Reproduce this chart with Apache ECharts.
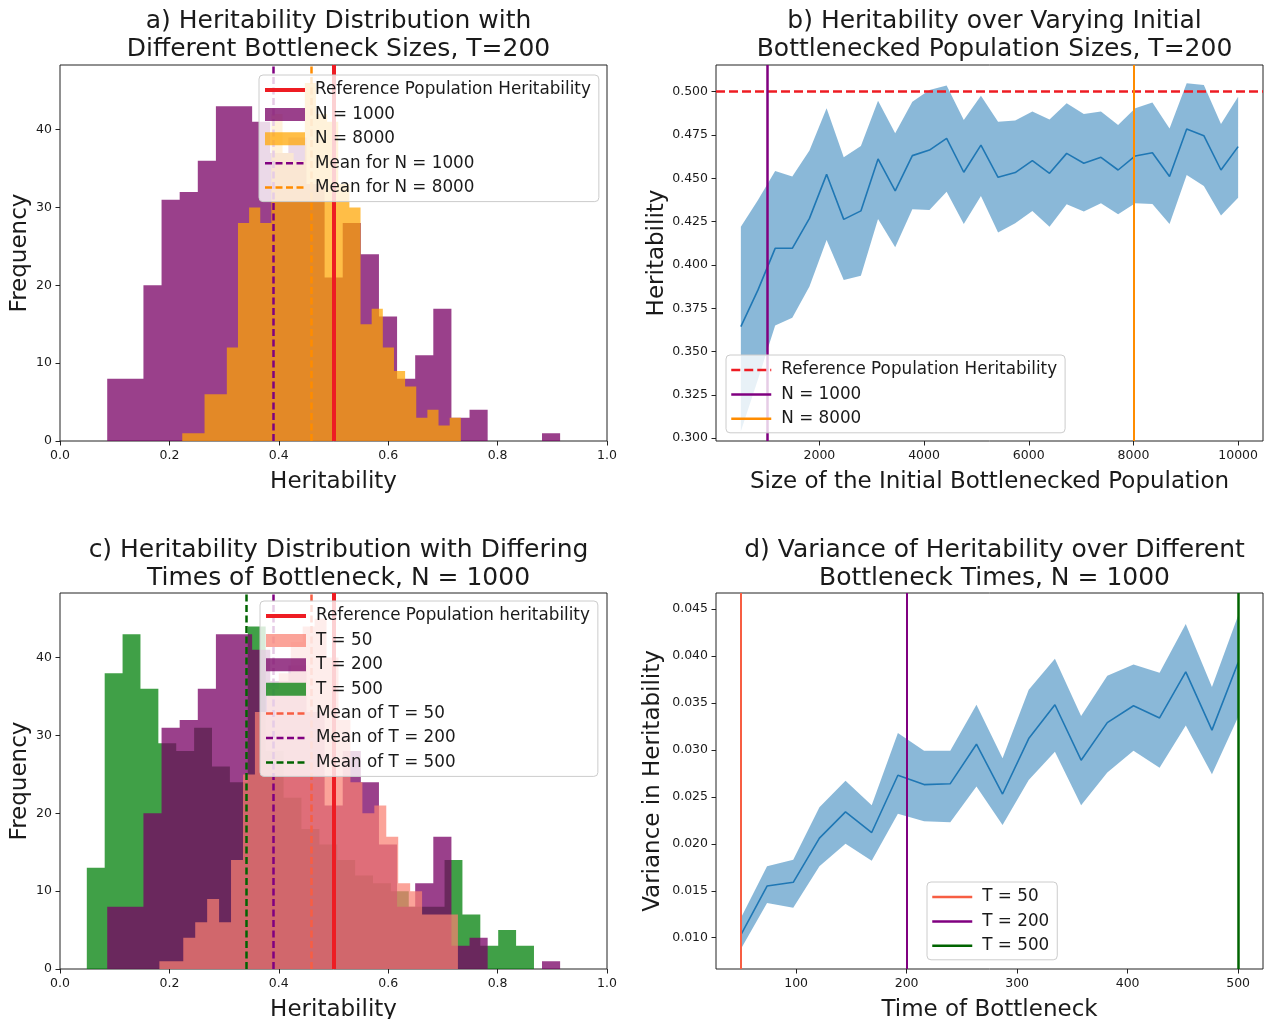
<!DOCTYPE html>
<html>
<head>
<meta charset="utf-8">
<script src="https://cdn.jsdelivr.net/npm/echarts@6/dist/echarts.min.js"></script>
<style>
html,body{margin:0;padding:0;background:#ffffff;}
#chart{width:1267px;height:1019px;}
</style>
</head>
<body>
<div id="chart"></div>
<script>
// ---------------- DATA ----------------
// Panel a / c histograms (bin start, bin width, counts)
const startN1000 = 0.0863, widthN1000 = 0.03312;
const countsN1000 = [8, 8, 20, 31, 32, 36, 43, 43, 41, 37, 39, 33, 21, 28, 24, 16, 8, 11, 17, 3, 4, 0, 0, 0, 1];
const startN8000 = 0.2235, widthN8000 = 0.02037;
const countsN8000 = [1, 1, 6, 6, 12, 28, 30, 28, 42, 37, 36, 46, 42, 41, 33, 30, 15, 17, 12, 9, 7, 3, 4, 2, 3];
const startT50 = 0.1817, widthT50 = 0.02183;
const countsT50 = [1, 1, 4, 6, 9, 6, 14, 25, 33, 36, 38, 42, 44, 45, 40, 32, 24, 20, 21, 17, 11, 10, 7, 7, 7];
const startT200 = 0.0863, widthT200 = 0.03312;
const countsT200 = [8, 8, 20, 31, 32, 36, 43, 43, 41, 37, 39, 33, 21, 28, 24, 16, 8, 11, 17, 3, 4, 0, 0, 0, 1];
const startT500 = 0.049, widthT500 = 0.0327;
const countsT500 = [13, 38, 43, 36, 29, 28, 31, 26, 24, 44, 28, 22, 18, 16, 14, 12, 11, 10, 8, 8, 14, 7, 3, 5, 3];

const refHeritability = 0.5;
const meanN1000 = 0.391, meanN8000 = 0.458;
const meanT50 = 0.461, meanT200 = 0.391, meanT500 = 0.3405;

// Panel b
const popSizes = [500, 827.6, 1155.2, 1482.8, 1810.3, 2137.9, 2465.5, 2793.1, 3120.7, 3448.3, 3775.9, 4103.4, 4431.0, 4758.6, 5086.2, 5413.8, 5741.4, 6069.0, 6396.6, 6724.1, 7051.7, 7379.3, 7706.9, 8034.5, 8362.1, 8689.7, 9017.2, 9344.8, 9672.4, 10000];
const herMean  = [0.3644, 0.3856, 0.4096, 0.4096, 0.4269, 0.4523, 0.4263, 0.4312, 0.4612, 0.4427, 0.4631, 0.4663, 0.4731, 0.4535, 0.4692, 0.4506, 0.4533, 0.4602, 0.4529, 0.4644, 0.4587, 0.4621, 0.4548, 0.4629, 0.4648, 0.4510, 0.4785, 0.4746, 0.4548, 0.4683];
const herUpper = [0.4221, 0.4375, 0.4542, 0.4510, 0.4660, 0.4904, 0.4621, 0.4687, 0.4948, 0.4760, 0.4942, 0.5010, 0.5035, 0.4837, 0.4977, 0.4827, 0.4833, 0.4885, 0.4840, 0.4933, 0.4871, 0.4885, 0.4808, 0.4904, 0.4937, 0.4788, 0.5048, 0.5038, 0.4813, 0.4971];
const herLower = [0.3040, 0.3340, 0.3650, 0.3696, 0.3875, 0.4144, 0.3913, 0.3937, 0.4265, 0.4102, 0.4321, 0.4317, 0.4423, 0.4237, 0.4398, 0.4188, 0.4240, 0.4312, 0.4221, 0.4350, 0.4308, 0.4356, 0.4292, 0.4356, 0.4352, 0.4237, 0.4519, 0.4456, 0.4285, 0.4388];
const markN1000 = 1000, markN8000 = 8000;

// Panel d
const bottleneckTimes = [50, 73.7, 97.4, 121.1, 144.7, 168.4, 192.1, 215.8, 239.5, 263.2, 286.8, 310.5, 334.2, 357.9, 381.6, 405.3, 428.9, 452.6, 476.3, 500];
const varMean  = [0.0103, 0.0155, 0.0159, 0.0206, 0.0234, 0.0212, 0.0273, 0.0263, 0.0264, 0.0306, 0.0253, 0.0312, 0.0348, 0.0289, 0.0329, 0.0347, 0.0334, 0.0383, 0.0321, 0.0393];
const varUpper = [0.0121, 0.0176, 0.0183, 0.0239, 0.0267, 0.0241, 0.0318, 0.0299, 0.0299, 0.0348, 0.0291, 0.0364, 0.0397, 0.0336, 0.0379, 0.0391, 0.0382, 0.0434, 0.0367, 0.0443];
const varLower = [0.0088, 0.0137, 0.0132, 0.0176, 0.0200, 0.0182, 0.0232, 0.0224, 0.0223, 0.0261, 0.0220, 0.0268, 0.0298, 0.0241, 0.0276, 0.0299, 0.0281, 0.0326, 0.0274, 0.0335];
const markT50 = 50, markT200 = 200, markT500 = 500;

// Tick labels
const histXTicks = [0, 0.2, 0.4, 0.6, 0.8, 1.0];
const histYTicks = [0, 10, 20, 30, 40];
const popXTicks = [2000, 4000, 6000, 8000, 10000];
const herYTicks = [0.300, 0.325, 0.350, 0.375, 0.400, 0.425, 0.450, 0.475, 0.500];
const timeXTicks = [100, 200, 300, 400, 500];
const varYTicks = [0.010, 0.015, 0.020, 0.025, 0.030, 0.035, 0.040, 0.045];

// ---------------- STYLE ----------------
const FONT = 'DejaVu Sans';
const INK = '#1a1a1a';
const C_PURPLE_H = 'rgba(120,0,100,0.75)';
const C_ORANGE_H = 'rgba(255,165,0,0.72)';
const C_SALMON_H = 'rgba(250,128,114,0.72)';
const C_GREEN_H = 'rgba(0,128,10,0.75)';
const C_RED = '#ee1c23';
const C_PURPLE = '#800080';
const C_ORANGE = '#ff8c00';
const C_TOMATO = '#f75e43';
const C_DGREEN = '#006400';
const C_BLUE = '#1f77b4';
const C_BAND = 'rgba(31,119,180,0.52)';

function stepPoints(start, width, counts) {
  const pts = [];
  counts.forEach((c, i) => {
    pts.push([start + i * width, c]);
    pts.push([start + (i + 1) * width, c]);
  });
  return pts;
}
function zip(xs, ys) { return xs.map((x, i) => [x, ys[i]]); }

function histSeries(name, gi, color, start, width, counts) {
  return {
    type: 'line', name, xAxisIndex: gi, yAxisIndex: gi,
    data: stepPoints(start, width, counts),
    symbol: 'none', showSymbol: false, silent: true, color,
    lineStyle: { width: 0, color }, itemStyle: { color },
    areaStyle: { color, opacity: 1 }, z: 2
  };
}
function bandSeries(gi, xs, lo, hi) {
  return {
    type: 'custom', xAxisIndex: gi, yAxisIndex: gi, silent: true, z: 2, clip: true,
    data: xs.map((x, i) => [x, lo[i], hi[i]]),
    encode: { x: 0, y: [1, 2] },
    renderItem: (params, api) => {
      if (params.dataIndex !== 0) return null;
      const pts = [];
      for (let i = 0; i < xs.length; i++) pts.push(api.coord([xs[i], hi[i]]));
      for (let i = xs.length - 1; i >= 0; i--) pts.push(api.coord([xs[i], lo[i]]));
      return { type: 'polygon', shape: { points: pts }, style: { fill: C_BAND } };
    }
  };
}
function markSeries(name, gi, axis, value, color, width, type) {
  const ls = { color, width, type };
  const item = {}; item[axis] = value;
  return {
    type: 'line', name, xAxisIndex: gi, yAxisIndex: gi, data: [],
    symbol: 'none', color, lineStyle: ls, itemStyle: { color },
    markLine: { silent: true, symbol: ['none', 'none'], label: { show: false },
      lineStyle: ls, emphasis: { disabled: true }, data: [item], z: 5 }
  };
}

function xAxisCfg(gi, min, max, ticks, name, fmt) {
  return {
    type: 'value', gridIndex: gi, min, max,
    name, nameLocation: 'middle', nameGap: 30,
    nameTextStyle: { fontFamily: FONT, fontSize: 23, color: INK },
    axisLine: { show: false },
    axisTick: { show: true, length: 4.5, lineStyle: { color: '#222', width: 1 }, customValues: ticks },
    axisLabel: { fontFamily: FONT, fontSize: 12.5, color: INK, margin: 8, customValues: ticks, formatter: fmt },
    splitLine: { show: false }
  };
}
function yAxisCfg(gi, min, max, ticks, name, gap, fmt) {
  return {
    type: 'value', gridIndex: gi, min, max,
    name, nameLocation: 'middle', nameGap: gap, nameRotate: 90,
    nameTextStyle: { fontFamily: FONT, fontSize: 23, color: INK },
    axisLine: { show: false },
    axisTick: { show: true, length: 4.5, lineStyle: { color: '#222', width: 1 }, customValues: ticks },
    axisLabel: { fontFamily: FONT, fontSize: 12.5, color: INK, margin: 8, customValues: ticks, formatter: fmt },
    splitLine: { show: false }
  };
}
function legendCfg(left, top, data) {
  return {
    left, top, orient: 'vertical', data, selectedMode: false,
    itemWidth: 40, itemHeight: 13, itemGap: 4.4,
    padding: [5, 8, 4, 4],
    backgroundColor: 'rgba(255,255,255,0.8)', borderColor: '#cccccc', borderWidth: 1, borderRadius: 4,
    z: 10,
    textStyle: { fontFamily: FONT, fontSize: 16.8, color: INK, lineHeight: 20, padding: [0, 0, 0, 5] },
    formatter: n => n.trim()
  };
}
function lineItem(name, width) { return { name, itemStyle: { opacity: 0 }, lineStyle: { width } }; }
function rectItem(name) { return { name, icon: 'rect' }; }
function titleCfg(text, cx, top) {
  return { text, left: cx, top, textAlign: 'center',
    textStyle: { fontFamily: FONT, fontSize: 25, fontWeight: 'normal', color: INK, lineHeight: 28.5 } };
}

const f1 = v => v.toFixed(1);
const f0 = v => String(Math.round(v));
const f3 = v => v.toFixed(3);

const gridBase = { show: true, borderColor: '#222', borderWidth: 1, backgroundColor: 'transparent', containLabel: false, outerBoundsMode: 'none' };

const DASH = [7, 3.5];

const option = {
  animation: false,
  backgroundColor: '#ffffff',
  title: [
    titleCfg('a) Heritability Distribution with\nDifferent Bottleneck Sizes, T=200', 333.5, 2),
    titleCfg('b) Heritability over Varying Initial\nBottlenecked Population Sizes, T=200', 989.5, 2),
    titleCfg('c) Heritability Distribution with Differing\nTimes of Bottleneck, N = 1000', 333.5, 531),
    titleCfg('d) Variance of Heritability over Different\nBottleneck Times, N = 1000', 989.5, 531)
  ],
  grid: [
    Object.assign({ left: 60, top: 65, width: 547, height: 376 }, gridBase),
    Object.assign({ left: 716, top: 65, width: 547, height: 376 }, gridBase),
    Object.assign({ left: 60, top: 593, width: 547, height: 376 }, gridBase),
    Object.assign({ left: 716, top: 593, width: 547, height: 376 }, gridBase)
  ],
  xAxis: [
    xAxisCfg(0, 0, 1, histXTicks, 'Heritability', f1),
    xAxisCfg(1, 25, 10475, popXTicks, 'Size of the Initial Bottlenecked Population', f0),
    xAxisCfg(2, 0, 1, histXTicks, 'Heritability', f1),
    xAxisCfg(3, 27.5, 522.5, timeXTicks, 'Time of Bottleneck', f0)
  ],
  yAxis: [
    yAxisCfg(0, 0, 48.3, histYTicks, 'Frequency', 28, f0),
    yAxisCfg(1, 0.2984, 0.5154, herYTicks, 'Heritability', 47, f3),
    yAxisCfg(2, 0, 48.3, histYTicks, 'Frequency', 28, f0),
    yAxisCfg(3, 0.00667, 0.0467, varYTicks, 'Variance in Heritability', 51, f3)
  ],
  legend: [
    legendCfg(259, 75, [
      lineItem('Reference Population Heritability', 4),
      rectItem('N = 1000'), rectItem('N = 8000'),
      lineItem('Mean for N = 1000', 2.5), lineItem('Mean for N = 8000', 2.5)
    ]),
    legendCfg(726, 355, [
      lineItem('Reference Population Heritability ', 2.5),
      lineItem('N = 1000 ', 2.5), lineItem('N = 8000 ', 2.5)
    ]),
    legendCfg(260, 601, [
      lineItem('Reference Population heritability', 4),
      rectItem('T = 50'), rectItem('T = 200'), rectItem('T = 500'),
      lineItem('Mean of T = 50', 2.5), lineItem('Mean of T = 200', 2.5), lineItem('Mean of T = 500', 2.5)
    ]),
    legendCfg(927, 882, [
      lineItem('T = 50 ', 2.5), lineItem('T = 200 ', 2.5), lineItem('T = 500 ', 2.5)
    ])
  ],
  series: [
    // panel a
    histSeries('N = 1000', 0, C_PURPLE_H, startN1000, widthN1000, countsN1000),
    histSeries('N = 8000', 0, C_ORANGE_H, startN8000, widthN8000, countsN8000),
    markSeries('Reference Population Heritability', 0, 'xAxis', refHeritability, C_RED, 4, 'solid'),
    markSeries('Mean for N = 1000', 0, 'xAxis', meanN1000, C_PURPLE, 2.5, DASH),
    markSeries('Mean for N = 8000', 0, 'xAxis', meanN8000, C_ORANGE, 2.5, DASH),
    // panel b
    bandSeries(1, popSizes, herLower, herUpper),
    { type: 'line', name: 'meanB', xAxisIndex: 1, yAxisIndex: 1, data: zip(popSizes, herMean),
      symbol: 'none', silent: true, lineStyle: { color: C_BLUE, width: 1.6 }, z: 3 },
    markSeries('Reference Population Heritability ', 1, 'yAxis', refHeritability, C_RED, 2.5, [9, 4]),
    markSeries('N = 1000 ', 1, 'xAxis', markN1000, C_PURPLE, 2.5, 'solid'),
    markSeries('N = 8000 ', 1, 'xAxis', markN8000, C_ORANGE, 2, 'solid'),
    // panel c
    histSeries('T = 500', 2, C_GREEN_H, startT500, widthT500, countsT500),
    histSeries('T = 200', 2, C_PURPLE_H, startT200, widthT200, countsT200),
    histSeries('T = 50', 2, C_SALMON_H, startT50, widthT50, countsT50),
    markSeries('Reference Population heritability', 2, 'xAxis', refHeritability, C_RED, 4, 'solid'),
    markSeries('Mean of T = 50', 2, 'xAxis', meanT50, C_TOMATO, 2.5, DASH),
    markSeries('Mean of T = 200', 2, 'xAxis', meanT200, C_PURPLE, 2.5, DASH),
    markSeries('Mean of T = 500', 2, 'xAxis', meanT500, C_DGREEN, 2.5, DASH),
    // panel d
    bandSeries(3, bottleneckTimes, varLower, varUpper),
    { type: 'line', name: 'meanD', xAxisIndex: 3, yAxisIndex: 3, data: zip(bottleneckTimes, varMean),
      symbol: 'none', silent: true, lineStyle: { color: C_BLUE, width: 1.6 }, z: 3 },
    markSeries('T = 50 ', 3, 'xAxis', markT50, C_TOMATO, 2, 'solid'),
    markSeries('T = 200 ', 3, 'xAxis', markT200, C_PURPLE, 2, 'solid'),
    markSeries('T = 500 ', 3, 'xAxis', markT500, C_DGREEN, 2.5, 'solid')
  ]
};

const chart = echarts.init(document.getElementById('chart'), null, { renderer: 'canvas' });
chart.setOption(option);
</script>
</body>
</html>
